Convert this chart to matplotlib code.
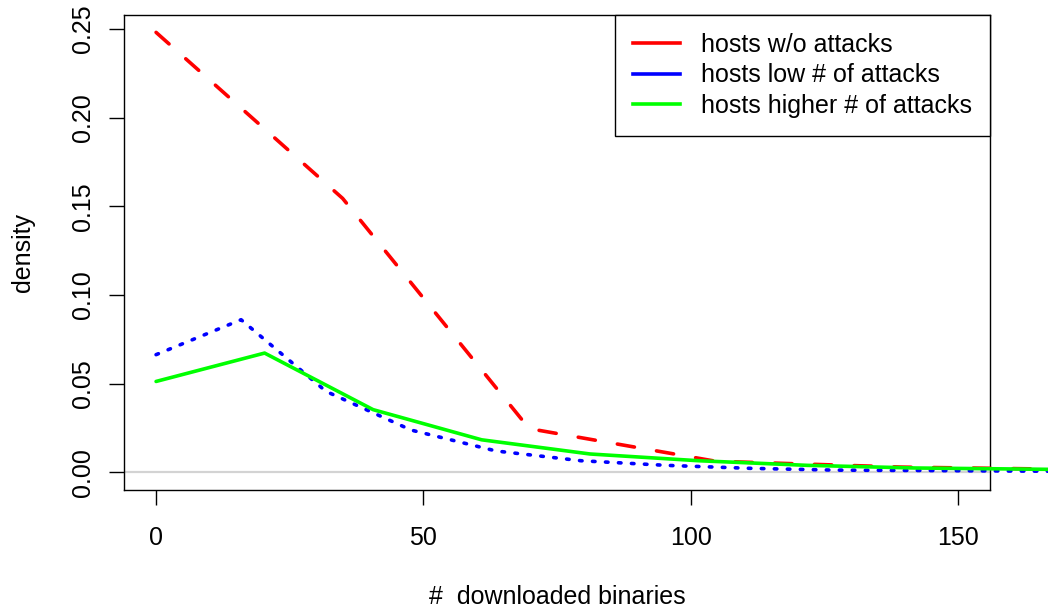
import matplotlib
matplotlib.use("Agg")
import matplotlib.pyplot as plt
from matplotlib.lines import Line2D

plt.rcParams['font.family'] = ['Liberation Sans', 'DejaVu Sans']

# Frequency polygons of downloaded binaries per host group
no_attack_x = [0, 34.9, 69.8, 104.7, 139.6, 174.5]
no_attack_y = [0.2481, 0.1545, 0.0247, 0.0063, 0.0030, 0.0016]

low_attack_x = [0, 15.9, 31.8, 47.7, 63.6, 79.5, 95.4, 111.3, 127.2, 143.1, 159.0, 174.9]
low_attack_y = [0.0664, 0.0861, 0.0457, 0.0239, 0.0121, 0.0066, 0.0040, 0.0023,
                0.0013, 0.0011, 0.0008, 0.0006]

high_attack_x = [0, 20.3, 40.6, 60.9, 81.2, 101.5, 121.8, 142.1, 162.4, 182.7]
high_attack_y = [0.0513, 0.0673, 0.0354, 0.0184, 0.0104, 0.0066, 0.0040, 0.0025,
                 0.0019, 0.0012]

series_labels = ["hosts w/o attacks", "hosts low # of attacks", "hosts higher # of attacks"]
series_colors = ["#FF0000", "#0000FF", "#00FF00"]

x_ticks = [0, 50, 100, 150]
y_ticks = [0.00, 0.05, 0.10, 0.15, 0.20, 0.25]
y_tick_labels = ["0.00", "0.05", "0.10", "0.15", "0.20", "0.25"]

W, H = 1048, 611
fig = plt.figure(figsize=(W / 100, H / 100), dpi=100)
ax = fig.add_axes([124 / W, 1 - 490 / H, (990 - 124) / W, (490 - 15) / H])

FS = 18
LW = 2.6

ax.axhline(0, color="#D3D3D3", lw=1.6, zorder=1)

ax.plot(no_attack_x, no_attack_y, color=series_colors[0], lw=LW,
        linestyle=(0, (4.8, 6.2)), dash_capstyle="round", clip_on=False, zorder=3)
ax.plot(low_attack_x, low_attack_y, color=series_colors[1], lw=LW,
        linestyle=(0, (0.7, 2.9)), dash_capstyle="round", clip_on=False, zorder=3)
ax.plot(high_attack_x, high_attack_y, color=series_colors[2], lw=LW,
        solid_capstyle="round", clip_on=False, zorder=3)

ax.set_xlim(-6.0, 156.0)
ax.set_ylim(-0.0099, 0.2579)

ax.set_xticks(x_ticks)
ax.set_xticklabels([str(v) for v in x_ticks])
ax.set_yticks(y_ticks)
ax.set_yticklabels(y_tick_labels, rotation=90, va="center")

ax.tick_params(axis="both", direction="out", length=11, width=1.0,
               labelsize=FS, color="black")
ax.tick_params(axis="x", pad=15)
ax.tick_params(axis="y", pad=10)

for sp in ax.spines.values():
    sp.set_linewidth(1.0)
    sp.set_color("black")

ax.set_xlabel("#  downloaded binaries", fontsize=FS, labelpad=25)
ax.set_ylabel("density", fontsize=FS, labelpad=26)

handles = [Line2D([], [], color=c, lw=LW) for c in series_colors]
leg = ax.legend(handles, series_labels, loc="upper right", fontsize=FS,
                borderaxespad=0, frameon=True, fancybox=False, framealpha=1,
                edgecolor="black", handlelength=1.9, handletextpad=0.84,
                borderpad=0.72, labelspacing=0.26)
leg.get_frame().set_linewidth(1.0)

fig.savefig("out.png", dpi=100)
